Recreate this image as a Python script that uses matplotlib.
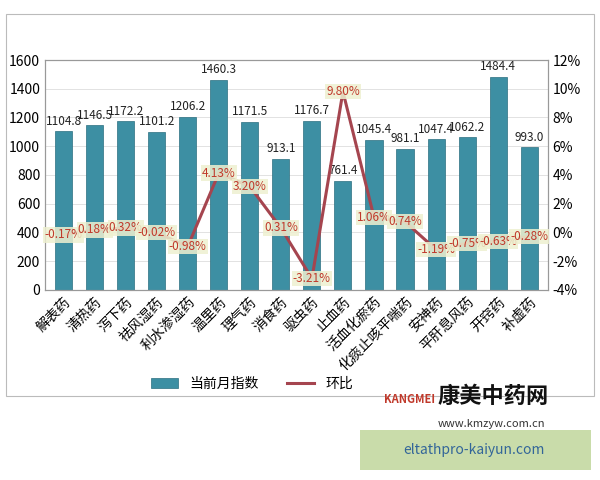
import numpy as np
import matplotlib.pyplot as plt
from matplotlib.patches import Rectangle

plt.rcParams['font.family'] = ['Noto Sans CJK SC', 'DejaVu Sans']

categories = ['解表药', '清热药', '泻下药', '祛风湿药', '利水渗湿药', '温里药', '理气药', '消食药',
              '驱虫药', '止血药', '活血化瘀药', '化痰止咳平喘药', '安神药', '平肝息风药', '开窍药', '补虚药']
index_values = [1104.8, 1146.5, 1172.2, 1101.2, 1206.2, 1460.3, 1171.5, 913.1,
                1176.7, 761.4, 1045.4, 981.1, 1047.4, 1062.2, 1484.4, 993.0]
mom_pct = [-0.17, 0.18, 0.32, -0.02, -0.98, 4.13, 3.20, 0.31,
           -3.21, 9.80, 1.06, 0.74, -1.19, -0.75, -0.63, -0.28]

fig = plt.figure(figsize=(6, 4.8), dpi=100)
fig.patches.append(Rectangle((0.01, 0.175), 0.98, 0.795, transform=fig.transFigure,
                             fill=False, edgecolor='#bbbbbb', lw=0.8))
ax = fig.add_axes([0.075, 0.396, 0.838, 0.479])
ax2 = ax.twinx()

x = np.arange(len(categories))
ax.bar(x, index_values, width=0.55, color='#3d8fa3', edgecolor='#2b6f80', lw=0.5, label='当前月指数')
for xi, v in zip(x, index_values):
    ax.text(xi, v + 25, f'{v:.1f}', ha='center', va='bottom', fontsize=8.5, color='#222222')
ax.set_ylim(0, 1600)
ax.set_yticks(range(0, 1601, 200))
ax.set_xlim(-0.6, len(categories) - 0.4)
ax.set_xticks(x)
ax.set_xticklabels(categories, rotation=45, ha='right', rotation_mode='anchor', fontsize=10)
ax.grid(axis='y', color='#dddddd', lw=0.6)
ax.set_axisbelow(True)

line, = ax2.plot(x, mom_pct, color='#a5454f', lw=2.2, label='环比')
for xi, v in zip(x, mom_pct):
    ax2.text(xi, v, f'{v:.2f}%', ha='center', va='center', fontsize=8.5, color='#c0392b',
             bbox=dict(boxstyle='square,pad=0.1', fc='#eef0d0', ec='none', alpha=0.85))
ax2.set_ylim(-4, 12)
ax2.set_yticks(range(-4, 13, 2))
ax2.set_yticklabels([f'{t}%' for t in range(-4, 13, 2)])

for a in (ax, ax2):
    a.tick_params(labelsize=10, length=0)
    for s in a.spines.values():
        s.set_color('#999999')

h1, l1 = ax.get_legend_handles_labels()
fig.legend(h1 + [line], l1 + ['环比'], loc='center', bbox_to_anchor=(0.42, 0.2),
           ncol=2, frameon=False, fontsize=10)

fig.text(0.73, 0.16, '康美中药网', fontsize=16, fontweight='bold', color='#111111')
fig.text(0.64, 0.16, 'KANGMEI', fontsize=8, fontweight='bold', color='#c0392b')
fig.text(0.73, 0.11, 'www.kmzyw.com.cn', fontsize=8, color='#333333')
fig.patches.append(Rectangle((0.6, 0.02), 0.385, 0.085, transform=fig.transFigure,
                             fc='#c9dcaa', ec='none'))
fig.text(0.79, 0.062, 'eltathpro-kaiyun.com', fontsize=10, color='#336699', ha='center', va='center')

fig.savefig('out.png', dpi=100)
